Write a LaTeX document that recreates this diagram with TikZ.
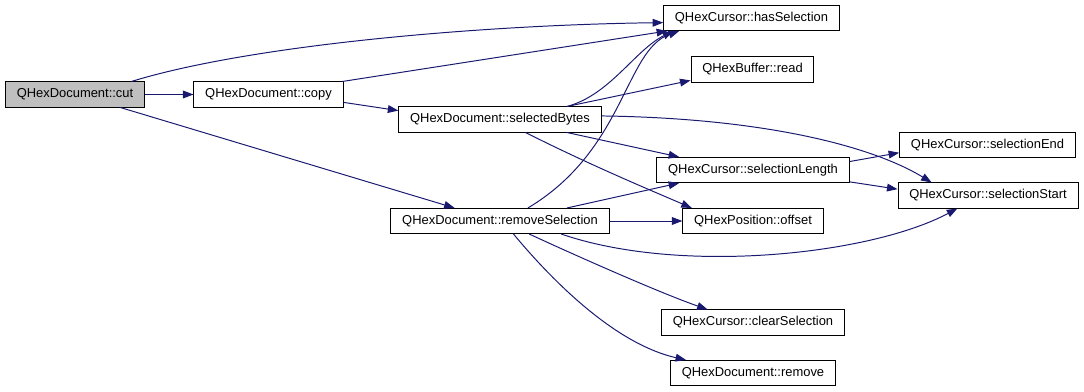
\documentclass[tikz,border=0pt]{standalone}
\usepackage{fontspec}
\setmainfont{Liberation Sans}
\usepackage{tikz}
\usetikzlibrary{arrows.meta, calc}
\definecolor{callblue}{RGB}{25,25,112}
\definecolor{rootgray}{RGB}{191,191,191}

\begin{document}
\begin{tikzpicture}[x=0.025cm, y=-0.025cm,
    fn/.style={draw=black, line width=0.7pt, fill=white, inner xsep=8pt, inner ysep=0pt,
               minimum height=17.8pt, font=\fontsize{9.2}{11}\selectfont},
    calls/.style={draw=callblue, line width=0.7pt, -{Triangle[length=7.5pt,width=5.5pt]}}]
        \useasboundingbox (0,0) rectangle (1084,392);
        % functions
        \node[fn, fill=rootgray] (cut) at (75,94.5) {QHexDocument::cut};
        \node[fn] (copy) at (268.5,94.5) {QHexDocument::copy};
        \node[fn] (hasSel) at (751.5,18) {QHexCursor::hasSelection};
        \node[fn] (read) at (752.5,69.5) {QHexBuffer::read};
        \node[fn] (selBytes) at (500,119.5) {QHexDocument::selectedBytes};
        \node[fn] (selLength) at (753,170) {QHexCursor::selectionLength};
        \node[fn] (selEnd) at (987.5,145) {QHexCursor::selectionEnd};
        \node[fn] (selStart) at (988,195.5) {QHexCursor::selectionStart};
        \node[fn] (offset) at (753,221) {QHexPosition::offset};
        \node[fn] (remSel) at (500,221) {QHexDocument::removeSelection};
        \node[fn] (clearSel) at (753,322.5) {QHexCursor::clearSelection};
        \node[fn] (remove) at (753,373) {QHexDocument::remove};

        % calls
        \draw[calls] (cut.13) .. controls (250,45) and (480,25) .. (hasSel.183);
        \draw[calls] (cut) -- (copy);
        \draw[calls] (cut.-16) -- (remSel.164);
        \draw[calls] (copy.10) -- ($(hasSel.south west)+(4,0)$);
        \draw[calls] (copy.-6) -- (selBytes.175);
        \draw[calls] (selBytes.11) .. controls (610,95) and (635,50) .. ($(hasSel.south west)+(10,0)$);
        \draw[calls] (selBytes.11) -- (read.190);
        \draw[calls] (selBytes.2) .. controls (760,118) and (870,145) .. (selStart.167);
        \draw[calls] (selBytes.-11) -- (selLength.170);
        \draw[calls] (selBytes.-27) .. controls (590,165) and (650,190) .. (offset.168);
        \draw[calls] (remSel.25) .. controls (625,150) and (625,50) .. ($(hasSel.south west)+(16,0)$);
        \draw[calls] (remSel.11) -- (selLength.190);
        \draw[calls] (remSel) -- (offset);
        \draw[calls] (remSel.-12) .. controls (680,275) and (870,255) .. (selStart.203);
        \draw[calls] (remSel.-24) .. controls (570,253) and (660,293) .. (clearSel.164);
        \draw[calls] (remSel.-44) .. controls (560,290) and (620,345) .. (remove.169);
        \draw[calls] (selLength.5) -- (selEnd.185);
        \draw[calls] (selLength.-7) -- (selStart.176);
\end{tikzpicture}
\end{document}
